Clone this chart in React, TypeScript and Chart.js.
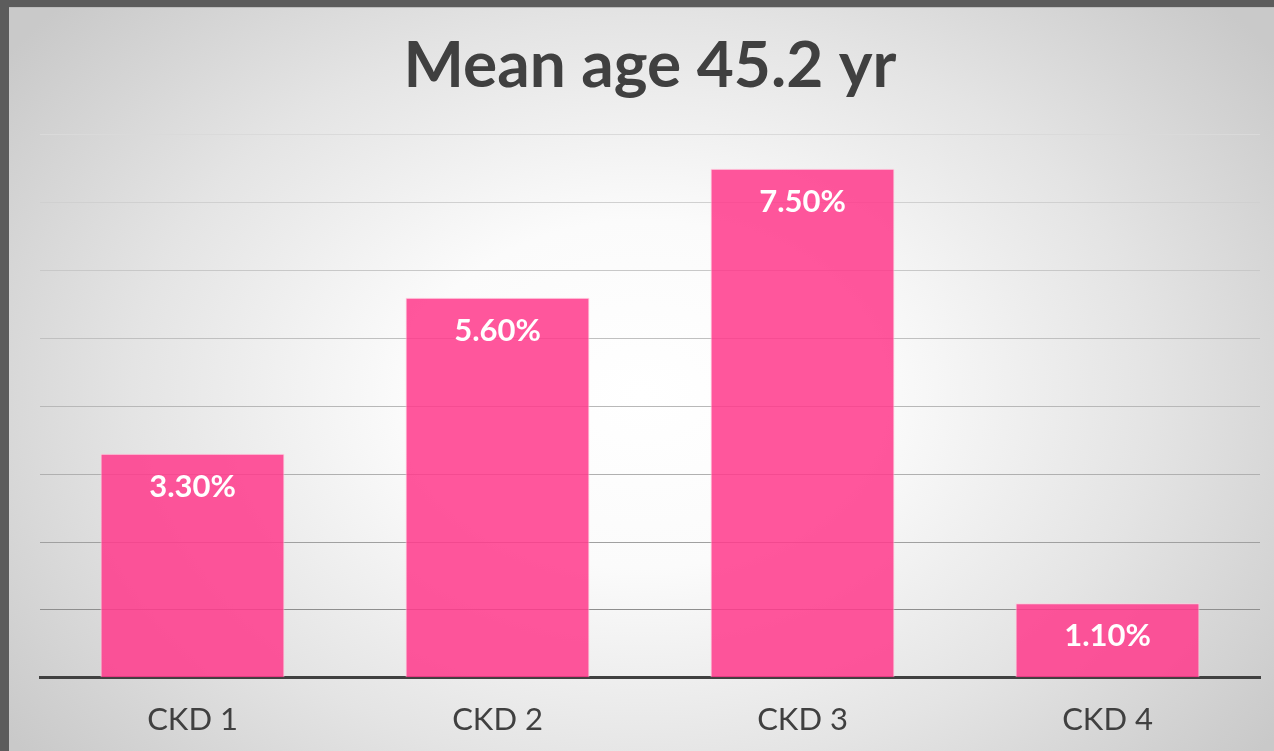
import React, { useEffect, useRef } from "react";
import { Chart, registerables } from "chart.js";

Chart.register(...registerables);

const categories: string[] = ["CKD 1", "CKD 2", "CKD 3", "CKD 4"];
const prevalence: number[] = [3.3, 5.6, 7.5, 1.1];
const yTicks: number[] = [0, 1, 2, 3, 4, 5, 6, 7, 8];
const titleText = "Mean age 45.2 yr";

const gridShades = ["#4a4a4a", "#8e8e8e", "#a0a0a0", "#b0b0b0", "#b8b8b8", "#c0c0c0", "#c8c8c8", "#d0d0d0", "#dadada"];

const valueLabels = {
  id: "valueLabels",
  afterDatasetsDraw(chart: any) {
    const ctx = chart.ctx;
    const meta = chart.getDatasetMeta(0);
    ctx.save();
    ctx.fillStyle = "#ffffff";
    ctx.font = "700 31px Lato";
    ctx.textAlign = "center";
    ctx.textBaseline = "middle";
    meta.data.forEach((bar: any, i: number) => {
      const v = chart.data.datasets[0].data[i] as number;
      ctx.fillText(`${v.toFixed(2)}%`, bar.x, bar.y + 33);
    });
    ctx.restore();
  },
};

export default function App() {
  const ref = useRef<HTMLCanvasElement | null>(null);

  useEffect(() => {
    document.body.style.margin = "0";
    document.body.style.background = "#5c5c5c";
    const canvas = ref.current;
    if (!canvas) return;
    const chart = new Chart(canvas, {
      type: "bar",
      data: {
        labels: categories,
        datasets: [
          {
            data: prevalence,
            backgroundColor: "rgba(255, 58, 140, 0.86)",
            borderColor: "rgba(255, 205, 222, 0.95)",
            borderWidth: 1,
            barPercentage: 1,
            categoryPercentage: 0.603,
          },
        ],
      },
      options: {
        responsive: false,
        animation: false,
        layout: { padding: { left: 31, right: 14, bottom: 0, top: 0 } },
        plugins: {
          legend: { display: false },
          tooltip: { enabled: false },
          title: {
            display: true,
            text: titleText,
            color: "#404040",
            font: { family: "Lato", size: 64, weight: "bold" },
            padding: { top: 20, bottom: 30 },
          },
        },
        scales: {
          x: {
            grid: { display: false, drawTicks: false },
            border: { display: true, color: "#404040", width: 3 },
            ticks: {
              color: "#404040",
              font: { family: "Lato", size: 31 },
              padding: 24,
            },
          },
          y: {
            min: yTicks[0],
            max: yTicks[yTicks.length - 1],
            afterBuildTicks: (axis: any) => {
              axis.ticks = yTicks.map((v) => ({ value: v }));
            },
            ticks: { display: false },
            border: { display: false },
            grid: {
              drawTicks: false,
              lineWidth: 1,
              color: (c: any) => gridShades[c.index] || "#c0c0c0",
            },
          },
        },
      },
      plugins: [valueLabels],
    });
    return () => chart.destroy();
  }, []);

  return (
    <div
      style={{
        position: "absolute",
        left: 9,
        top: 7,
        width: 1265,
        height: 744,
        overflow: "hidden",
        borderTop: "1px solid #bdbdbd",
        boxSizing: "border-box",
        background:
          "radial-gradient(ellipse 62% 78% at 50% 52%, #ffffff 0%, #fbfbfb 30%, #e4e4e4 65%, #c9c9c9 100%)",
      }}
    >
      <canvas ref={ref} width={1265} height={755} style={{ display: "block", width: 1265, height: 755 }} />
    </div>
  );
}
